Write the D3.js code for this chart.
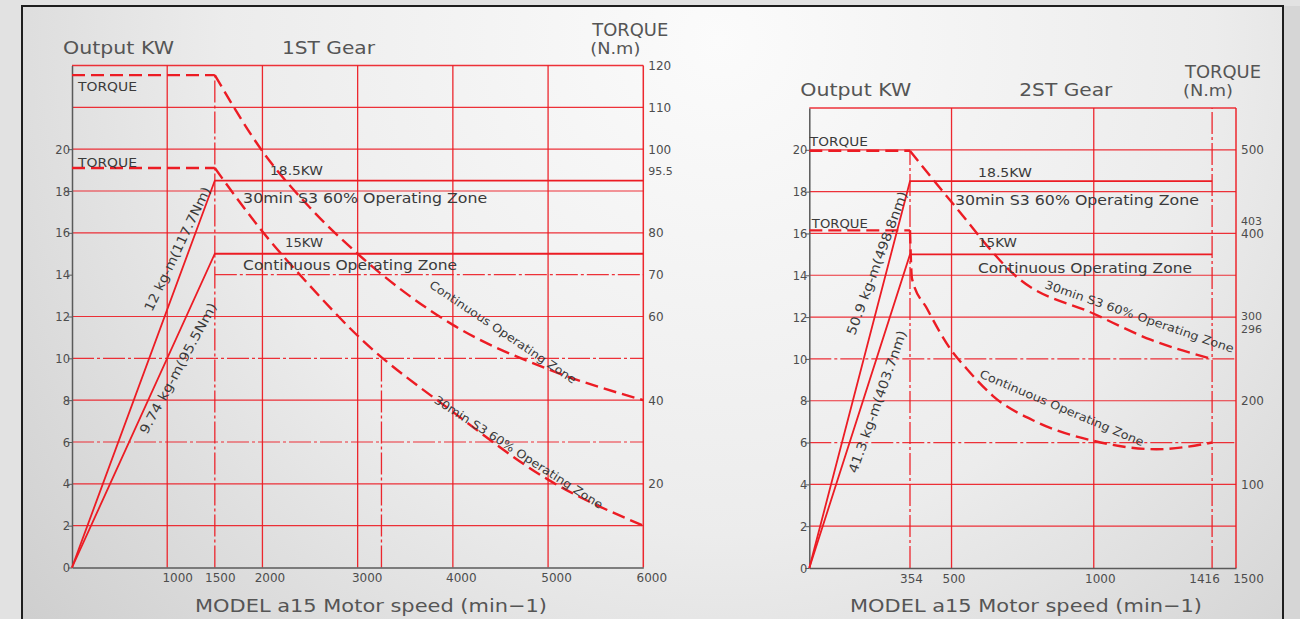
<!DOCTYPE html>
<html>
<head>
<meta charset="utf-8">
<script src="https://cdn.jsdelivr.net/npm/d3@7"></script>
<style>
  html, body { margin: 0; padding: 0; }
  body { width: 1300px; height: 619px; overflow: hidden; background: #dcdcdc; }
  text { font-family: "DejaVu Sans", sans-serif; fill: #4d4d4d; }
</style>
</head>
<body>
<script>
// ---- 1ST gear ----
var g1SpeedTicks = [1000, 1500, 2000, 3000, 4000, 5000, 6000];
var g1KwTicks = [0, 2, 4, 6, 8, 10, 12, 14, 16, 18, 20];
var g1TorqueTicks = [120, 110, 100, 95.5, 80, 70, 60, 40, 20];
var g1Speed = [1500, 2000, 2500, 3000, 4000, 5000, 6000];
var g1TorqueUpper = [117.7, 99.5, 86, 75, 58, 47.4, 40];   // N.m
var g1TorqueLower = [95.5, 80.3, 67.3, 55.4, 37.2, 21, 10]; // N.m
var g1RatedTorque = [117.7, 95.5];
var g1Power = [18.5, 15];
var g1BaseSpeed = 1500, g1MaxSpeed = 6000, g1Marker = 3250;

// ---- 2ST gear ----
var g2SpeedTicks = [354, 500, 1000, 1416, 1500];
var g2KwTicks = [0, 2, 4, 6, 8, 10, 12, 14, 16, 18, 20];
var g2TorqueTicks = [500, 403, 400, 300, 296, 200, 100];
var g2SpeedUpper = [354, 500, 740, 1000, 1200, 1416];
var g2TorqueUpper = [498.8, 437.6, 345, 304, 273, 250];
var g2SpeedLower = [354, 361, 414, 500, 554, 646, 800, 1000, 1220, 1416];
var g2TorqueLower = [403.7, 346, 310, 260, 238, 205.6, 174.4, 152, 142, 150];
var g2RatedTorque = [498.8, 403.7];
var g2Power = [18.5, 15];
var g2BaseSpeed = 354, g2TopSpeed = 1416, g2MaxSpeed = 1500;

var RED = "#ec1c24";
var DASHDOT = "22,3,3,3";

var svg = d3.select("body").append("svg")
    .attr("width", 1300)
    .attr("height", 619);

var defs = svg.append("defs");
var grad = defs.append("radialGradient")
    .attr("id", "bg")
    .attr("gradientUnits", "userSpaceOnUse")
    .attr("cx", 720).attr("cy", 40).attr("r", 900);
grad.append("stop").attr("offset", "0%").attr("stop-color", "#fbfbfb");
grad.append("stop").attr("offset", "55%").attr("stop-color", "#ececec");
grad.append("stop").attr("offset", "100%").attr("stop-color", "#cfcfcf");

svg.append("rect").attr("x", 0).attr("y", 0).attr("width", 1300).attr("height", 619)
   .attr("fill", "#e2e2e2");
svg.append("rect").attr("x", 22).attr("y", 6).attr("width", 1261).attr("height", 620)
   .attr("fill", "url(#bg)");
svg.append("rect").attr("x", 1284).attr("y", 6).attr("width", 16).attr("height", 620)
   .attr("fill", "#d6d6d6");
svg.append("path")
   .attr("d", "M22,619V6H1283V619")
   .attr("fill", "none").attr("stroke", "#1e1e1e").attr("stroke-width", 2);

function drawPanel(p) {
  var x = d3.scaleLinear().domain([0, p.maxSpeed]).range(p.xRange);
  var y = d3.scaleLinear().domain([0, p.topKw]).range(p.yRange);
  var yT = d3.scaleLinear().domain([0, p.topKw * p.nmPerKw]).range(p.yRange);
  var g = svg.append("g");

  // horizontal grid every 2 kW
  var hGrid = d3.range(2, p.topKw + 1, 2);
  g.selectAll("line.h").data(hGrid).enter().append("line")
    .attr("class", "h")
    .attr("x1", function(d) { return x(p.partialKw[d] || 0); })
    .attr("x2", x(p.maxSpeed))
    .attr("y1", function(d) { return y(d); })
    .attr("y2", function(d) { return y(d); })
    .attr("stroke", RED)
    .attr("stroke-width", function(d) { return d === p.topKw ? 1.5 : 1.2; })
    .attr("stroke-opacity", 0.9)
    .attr("stroke-dasharray", function(d) { return p.dashKw.indexOf(d) >= 0 ? DASHDOT : null; });

  // vertical grid
  g.selectAll("line.v").data(p.vGrid).enter().append("line")
    .attr("class", "v")
    .attr("x1", function(d) { return x(d.s); })
    .attr("x2", function(d) { return x(d.s); })
    .attr("y1", y(0))
    .attr("y2", function(d) { return y(d.toKw === undefined ? p.topKw : d.toKw); })
    .attr("stroke", RED)
    .attr("stroke-width", function(d) { return d.s === p.maxSpeed ? 1.5 : 1.3; })
    .attr("stroke-opacity", 0.95)
    .attr("stroke-dasharray", function(d) { return d.dash ? DASHDOT : null; });

  // left kW axis and bottom speed axis
  var ax = g.append("g")
    .attr("transform", "translate(" + p.xRange[0] + ",0)")
    .call(d3.axisLeft(y).tickValues(p.kwTicks).tickSize(4).tickSizeOuter(0).tickPadding(-2)
          .tickFormat(d3.format("d")));
  ax.attr("font-size", 11.5).attr("font-family", null).attr("color", "#5a5a5a");
  ax.select(".domain").attr("stroke-width", 1.5);
  ax.selectAll(".tick text").attr("dy", "0.36em");

  var bx = g.append("g")
    .attr("transform", "translate(0," + p.yRange[0] + ")")
    .call(d3.axisBottom(x).tickValues(p.speedTicks).tickSize(0).tickSizeOuter(0).tickPadding(6)
          .tickFormat(d3.format("d")));
  bx.attr("font-size", 12).attr("font-family", null).attr("color", "#5a5a5a");
  bx.select(".domain").attr("stroke-width", 1.5);
  bx.selectAll(".tick text").attr("dx", function(d, i) { return p.speedNudge[i]; });

  // right torque axis
  var tx = g.append("g")
    .attr("transform", "translate(" + p.xRange[1] + ",0)")
    .call(d3.axisRight(yT).tickValues(p.torqueTicks).tickSize(0).tickPadding(5)
          .tickFormat(function(d) { return String(d); }));
  tx.attr("font-size", 12).attr("font-family", null);
  tx.select(".domain").remove();
  tx.selectAll(".tick text")
    .attr("font-size", function(d, i) { return p.torqueNudge[i] ? 11 : 12; })
    .attr("dy", function(d, i) { return (0.32 * 12 + p.torqueNudge[i]) + "px"; });

  // power lines
  var line = d3.line().x(function(d) { return x(d[0]); }).y(function(d) { return y(d[1]); });
  p.power.forEach(function(kw) {
    g.append("path")
      .attr("d", line([[0, 0], [p.baseSpeed, kw], [p.topSpeed, kw]]))
      .attr("fill", "none").attr("stroke", RED).attr("stroke-width", 1.8);
  });

  // rated torque plateaus
  var lineT = d3.line().x(function(d) { return x(d[0]); }).y(function(d) { return yT(d[1]); });
  p.rated.forEach(function(t) {
    g.append("path")
      .attr("d", lineT([[0, t], [p.baseSpeed, t]]))
      .attr("fill", "none").attr("stroke", RED).attr("stroke-width", 2.4)
      .attr("stroke-dasharray", "13,6");
  });

  // torque curves
  var curve = d3.line().curve(d3.curveMonotoneX)
    .x(function(d) { return x(d[0]); }).y(function(d) { return yT(d[1]); });
  p.curves.forEach(function(c) {
    g.append("path")
      .attr("d", curve(d3.zip(c[0], c[1])))
      .attr("fill", "none").attr("stroke", RED).attr("stroke-width", 2.4)
      .attr("stroke-dasharray", "13,6");
  });

  // titles
  function title(txt, px, py, size, len) {
    g.append("text").attr("x", px).attr("y", py).attr("font-size", size)
      .attr("textLength", len).attr("lengthAdjust", "spacingAndGlyphs")
      .style("fill", "#555").text(txt);
  }
  title("Output KW", p.xRange[0] - 9, p.yRange[1] - 12, 18, 111);
  title(p.gear, p.xRange[0] + 210, p.yRange[1] - 12, 18, 93);
  title("TORQUE", p.xRange[1] - 51, p.yRange[1] - 30, 17.5, 76);
  title("(N.m)", p.xRange[1] - 53, p.yRange[1] - 12, 16, 50);
  title("MODEL a15 Motor speed (min\u22121)", p.titleX, 612, 18, 352);

  // annotations
  p.notes.forEach(function(n) {
    var px = x(n.s), py = y(n.kw);
    var t = g.append("text").attr("x", px).attr("y", py)
      .attr("font-size", n.size).style("fill", "#3a3a3a")
      .attr("textLength", n.len).attr("lengthAdjust", "spacingAndGlyphs")
      .text(n.text);
    if (n.angle) t.attr("transform", "rotate(" + n.angle + "," + px + "," + py + ")");
  });
}

drawPanel({
  gear: "1ST Gear",
  maxSpeed: g1MaxSpeed, topSpeed: g1MaxSpeed, baseSpeed: g1BaseSpeed,
  topKw: 24, nmPerKw: 5,
  xRange: [72, 643.3], yRange: [567.5, 65.5],
  kwTicks: g1KwTicks, speedTicks: g1SpeedTicks, torqueTicks: g1TorqueTicks,
  speedNudge: [10, 5, 7, 9, 8, 8, 8],
  torqueNudge: [0, 0, 0, 3, 0, 0, 0, 0, 0],
  dashKw: [6, 10, 14], partialKw: {14: g1BaseSpeed},
  vGrid: [{s: 1000}, {s: g1BaseSpeed, dash: true, toKw: g1RatedTorque[0] / 5}, {s: 2000},
          {s: 3000}, {s: g1Marker, dash: true, toKw: 10}, {s: 4000}, {s: 5000}, {s: g1MaxSpeed}],
  power: g1Power, rated: g1RatedTorque,
  curves: [[g1Speed, g1TorqueUpper], [g1Speed, g1TorqueLower]],
  titleX: 195,
  notes: [
    {text: "TORQUE", s: 63, kw: 22.77, size: 13, len: 59},
    {text: "TORQUE", s: 63, kw: 19.14, size: 13, len: 59},
    {text: "18.5KW", s: 2080, kw: 18.76, size: 13, len: 53},
    {text: "30min S3 60% Operating Zone", s: 1797, kw: 17.42, size: 14, len: 244},
    {text: "15KW", s: 2238, kw: 15.32, size: 13, len: 38},
    {text: "Continuous Operating Zone", s: 1797, kw: 14.22, size: 14, len: 214},
    {text: "12 kg-m(117.7Nm)", s: 841, kw: 12.2, size: 13, len: 136, angle: -64.4},
    {text: "9.74 kg-m(95.5Nm)", s: 788, kw: 6.33, size: 13, len: 147, angle: -61.5},
    {text: "Continuous Operating Zone", s: 3745, kw: 13.42, size: 11.5, len: 174, angle: 34},
    {text: "30min S3 60% Operating Zone", s: 3793, kw: 7.91, size: 11.5, len: 198, angle: 32.8}
  ]
});

drawPanel({
  gear: "2ST Gear",
  maxSpeed: g2MaxSpeed, topSpeed: g2TopSpeed, baseSpeed: g2BaseSpeed,
  topKw: 22, nmPerKw: 25,
  xRange: [809.3, 1236], yRange: [568, 108],
  kwTicks: g2KwTicks, speedTicks: g2SpeedTicks, torqueTicks: g2TorqueTicks,
  speedNudge: [1, 2, 6, -8, 12],
  torqueNudge: [0, -10.5, 0, -1.5, 8, 0, 0],
  dashKw: [6, 10], partialKw: {},
  vGrid: [{s: g2BaseSpeed, dash: true, toKw: g2RatedTorque[0] / 25}, {s: 500}, {s: 1000},
          {s: g2TopSpeed, dash: true}, {s: g2MaxSpeed}],
  power: g2Power, rated: g2RatedTorque,
  curves: [[g2SpeedUpper, g2TorqueUpper], [g2SpeedLower, g2TorqueLower]],
  titleX: 850,
  notes: [
    {text: "TORQUE", s: 2, kw: 20.18, size: 13, len: 58},
    {text: "TORQUE", s: 9, kw: 16.26, size: 13, len: 56},
    {text: "18.5KW", s: 593, kw: 18.72, size: 13, len: 54},
    {text: "30min S3 60% Operating Zone", s: 512, kw: 17.36, size: 14, len: 244},
    {text: "15KW", s: 593, kw: 15.35, size: 13, len: 39},
    {text: "Continuous Operating Zone", s: 593, kw: 14.1, size: 14, len: 214},
    {text: "50.9 kg-m(498.8nm)", s: 160, kw: 11.1, size: 13, len: 152, angle: -69.7},
    {text: "41.3 kg-m(403.7nm)", s: 167, kw: 4.5, size: 13, len: 150, angle: -70.6},
    {text: "30min S3 60% Operating Zone", s: 825, kw: 13.39, size: 11.5, len: 199, angle: 19},
    {text: "Continuous Operating Zone", s: 596, kw: 9.13, size: 11.5, len: 177, angle: 23}
  ]
});
</script>
</body>
</html>
